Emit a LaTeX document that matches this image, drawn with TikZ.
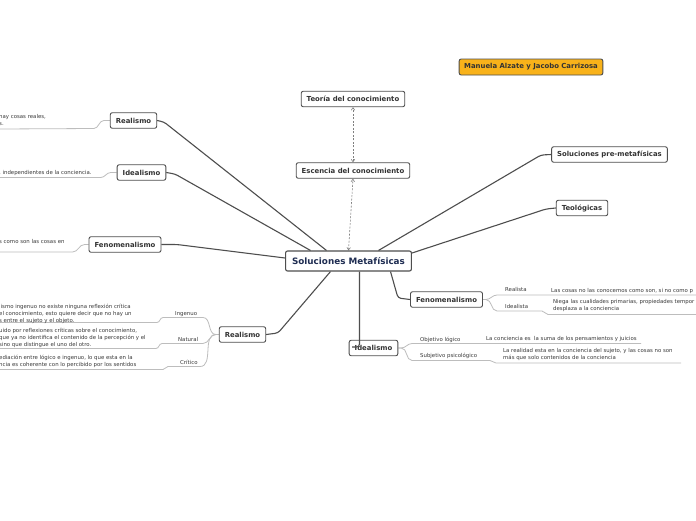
\documentclass[tikz,border=0pt]{standalone}
\usepackage{fontspec}
\setmainfont{DejaVu Sans}
\usetikzlibrary{arrows.meta,calc,backgrounds}
\definecolor{boxc}{HTML}{4E4E4E}
\definecolor{txt}{HTML}{333333}
\definecolor{connc}{HTML}{4E4E4E}
\definecolor{leafc}{HTML}{BDBDBD}
\definecolor{leaftxt}{HTML}{3A3A3A}
\definecolor{navy}{HTML}{1F2D52}
\definecolor{orangefill}{HTML}{F8B21A}
\begin{document}
\begin{tikzpicture}[x=1pt,y=-1pt,
  topic/.style={draw=boxc, line width=0.9pt, rounded corners=2pt, fill=white, text=txt,
    font=\bfseries\fontsize{6.9}{8}\selectfont, inner xsep=5.5pt, inner ysep=2pt, minimum height=15.5pt},
  central/.style={topic, line width=1.1pt, text=navy, font=\bfseries\fontsize{8.8}{10}\selectfont,
    minimum height=20pt, inner xsep=6.5pt},
  author/.style={topic, fill=orangefill, minimum height=16pt, inner xsep=5pt},
  conn/.style={draw=connc, line width=1.1pt, rounded corners=3pt},
  dashconn/.style={draw=gray, line width=0.6pt, dash pattern=on 2pt off 1.5pt,
    {Straight Barb[length=2.5pt,width=3.5pt]}-{Straight Barb[length=2.5pt,width=3.5pt]}},
  leafline/.style={draw=leafc, line width=0.8pt},
  leaf/.style={text=leaftxt, font=\fontsize{5.4}{7}\selectfont, inner sep=0pt, align=left},
]
\useasboundingbox (0,0) rectangle (696,520);

% main topics
\node[author] (au) at (531,67) {Manuela Alzate y Jacobo Carrizosa};
\node[topic] (teo) at (353,99) {Teoría del conocimiento};
\node[topic] (esc) at (353,170.5) {Escencia del conocimiento};
\node[central] (C) at (348.5,261) {Soluciones Metafísicas};
\node[topic] (pre) at (609.5,154.5) {Soluciones pre-metafísicas};
\node[topic] (teol) at (582,208) {Teológicas};
\node[topic] (re1) at (133.5,120.5) {Realismo};
\node[topic] (id1) at (141.5,172.5) {Idealismo};
\node[topic] (fe1) at (125,244.5) {Fenomenalismo};
\node[topic] (re2) at (242.5,334.5) {Realismo};
\node[topic] (fe2) at (446.5,299.5) {Fenomenalismo};
\node[topic] (id2) at (373.5,348) {Idealismo};

% leaf texts, left side
\node[leaf, anchor=north west] (t1) at (-1,114.5) {hay cosas reales,\\s.};
\node[leaf, anchor=base west] (t2) at (-1,174) {, independientes de la conciencia.};
\node[leaf, anchor=base west] (t3) at (-1,243) {s como son las cosas en};

% realismo (bottom left)
\node[leaf, anchor=base west] (ing) at (175,315) {Ingenuo};
\node[leaf, anchor=base west] (nat) at (178,341) {Natural};
\node[leaf, anchor=base west] (cri) at (180,364) {Crítico};
\node[leaf, anchor=north west] (ting) at (-1,303.5) {lismo ingenuo no existe ninguna reflexión crítica\\el conocimiento, esto quiere decir que no hay un\\s entre el sujeto y el objeto.};
\node[leaf, anchor=north west] (tnat) at (-1,328) {uido por reflexiones críticas sobre el conocimiento,\\ que ya no identifica el contenido de la percepción y el\\sino que distingue el uno del otro.};
\node[leaf, anchor=north west] (tcri) at (-1,354.5) {ediación entre lógico e ingenuo, lo que esta en la\\ncia es coherente con lo percibido por los sentidos};

% fenomenalismo (right)
\node[leaf, anchor=base west] (rea) at (505,291.5) {Realista};
\node[leaf, anchor=base west] (ide) at (505,308) {Idealista};
\node[leaf, anchor=base west] (trea) at (551,292) {Las cosas no las conocemos como son, si no como p};
\node[leaf, anchor=north west] (tide) at (553,299.5) {Niega las cualidades primarias, propiedades tempor\\desplaza a la conciencia};

% idealismo (bottom)
\node[leaf, anchor=base west] (obj) at (420,341) {Objetivo lógico};
\node[leaf, anchor=base west] (sub) at (420,357.5) {Subjetivo psicológico};
\node[leaf, anchor=base west] (tobj) at (486,340) {La conciencia es\ \ la suma de los pensamientos y juicios};
\node[leaf, anchor=north west] (tsub) at (503,348.5) {La realidad esta en la conciencia del sujeto, y las cosas no son\\más que solo contenidos de la conciencia};

\begin{scope}[on background layer]
  \fill[white] (0,0) rectangle (696,520);
  % main connectors
  \draw[conn] (re1.east) -- (164,122) -- ($(C.north)+(-22,0)$);
  \draw[conn] (id1.east) -- (175,174) -- ($(C.north)+(-38,0)$);
  \draw[conn] (fe1.east) -- (177,244.5) -- ($(C.west)+(0,-3)$);
  \draw[conn] (re2.east) -- (278,333) -- ($(C.south)+(-18,0)$);
  \draw[conn] ($(C.north)+(30,0)$) -- (541,155) -- (pre.west);
  \draw[conn] ($(C.east)+(0,-8)$) -- (546,209) -- (teol.west);
  \draw[conn] ($(C.south)+(42,0)$) -- (398,298) -- (fe2.west);
  % dashed relations
  \draw[dashconn] (esc.north) -- (teo.south);
  \draw[dashconn] (C.north) -- (esc.south);
  % leaf lines left
  \coordinate (e1) at (0,129);
  \coordinate (e2) at (0,177.5);
  \coordinate (e3) at (0,252);
  \draw[leafline] (re1.west) -- ++(-6,0) to[out=180,in=0] ++(-10,8) -- (e1);
  \draw[leafline] (id1.west) -- ++(-6,0) to[out=180,in=0] ++(-10,5) -- (e2);
  \draw[leafline] (fe1.west) -- ++(-4,0) to[out=180,in=0] ++(-12,7.5) -- (e3);
  % realismo bottom-left
  \coordinate (e4) at (0,322.5);
  \coordinate (e5) at (0,348.5);
  \coordinate (e6) at (0,369.5);
  \draw[leafline] (re2.west) -- ++(-3,0) to[out=180,in=0] (203,317.5) -- (163,317.5) to[out=180,in=0] (157,322.5) -- (e4);
  \draw[leafline] (re2.west) -- ++(-3,0) to[out=180,in=0] (203,343.5) -- (162,343.5) to[out=180,in=0] (156,348.5) -- (e5);
  \draw[leafline] (re2.west) -- ++(-3,0) to[out=180,in=0] (200,366.5) -- (168,366.5) to[out=180,in=0] (163,369.5) -- (e6);
  % fenomenalismo right
  \coordinate (e7) at (696,295);
  \coordinate (e8) at (696,314.5);
  \draw[leafline] (fe2.east) -- ++(3,0) to[out=0,in=180] (497,295) -- (e7);
  \draw[leafline] (fe2.east) -- ++(3,0) to[out=0,in=180] (497,311) -- (542,311) to[out=0,in=180] (548,314.5) -- (e8);
  % idealismo bottom
  \coordinate (e9) at (641,343.5);
  \coordinate (e10) at (681,363);
  \draw[leafline] (id2.east) -- ++(3,0) to[out=0,in=180] (412,343.5) -- (e9);
  \draw[leafline] (id2.east) -- ++(3,0) to[out=0,in=180] (412,360.5) -- (490,360.5) to[out=0,in=180] (496,363) -- (e10);
\end{scope}
% line from central to idealismo runs over that node
\draw[conn] ($(C.south)+(11,0)$) -- (359.5,347) -- (352,347);
\end{tikzpicture}
\end{document}
